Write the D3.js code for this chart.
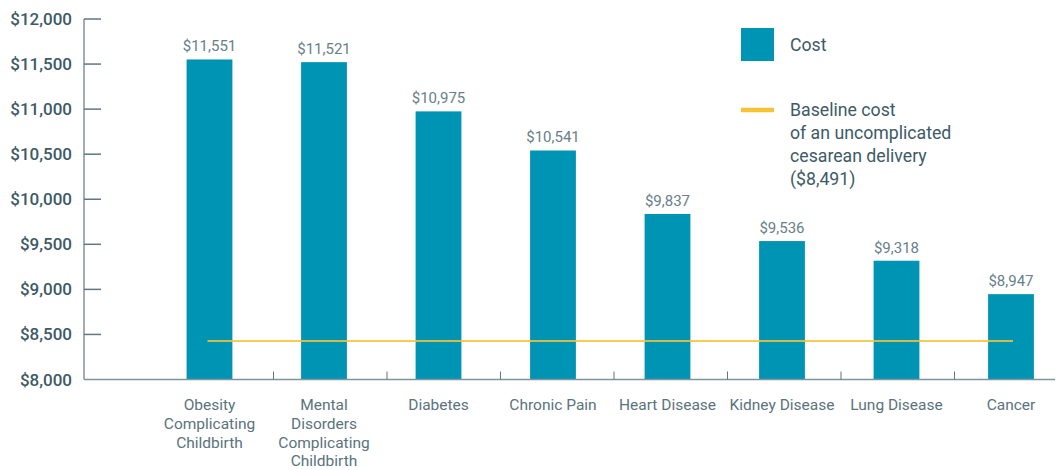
<!DOCTYPE html>
<html>
<head>
<meta charset="utf-8">
<script src="https://cdn.jsdelivr.net/npm/d3@7"></script>
<style>
  body { margin: 0; background: #fff; }
  text { font-family: Roboto, "Noto Sans", sans-serif; }
</style>
</head>
<body>
<script>
// categories, each label split into lines
var categories = ["Obesity Complicating Childbirth", "Mental Disorders Complicating Childbirth",
  "Diabetes", "Chronic Pain", "Heart Disease", "Kidney Disease", "Lung Disease", "Cancer"];
var categoryLines = [["Obesity", "Complicating", "Childbirth"],
  ["Mental", "Disorders", "Complicating", "Childbirth"],
  ["Diabetes"], ["Chronic Pain"], ["Heart Disease"], ["Kidney Disease"], ["Lung Disease"], ["Cancer"]];
var costs = [11551, 11521, 10975, 10541, 9837, 9536, 9318, 8947];
var yTicks = [8000, 8500, 9000, 9500, 10000, 10500, 11000, 11500, 12000];
var baselineCost = 8491;
var baselineLevel = 8427; // where the yellow line sits in the picture
var legendCost = "Cost";
var legendBaseline = ["Baseline cost", "of an uncomplicated", "cesarean delivery", "($8,491)"];

var W = 1058, H = 470;
var svg = d3.select("body").append("svg").attr("width", W).attr("height", H);

var y = d3.scaleLinear().domain([8000, 12000]).range([379.5, 19]);
var x = d3.scaleBand().domain(categories).range([152.25, 1068.25]).paddingInner(0.6).paddingOuter(0.3);
var fmt = function(v) { return "$" + d3.format(",")(v); };

var barColor = "#0094b4", gold = "#f7c234", axisColor = "#7f949c";

// y axis
svg.append("line").attr("x1", 84).attr("x2", 84).attr("y1", y(12000)).attr("y2", y(8000))
  .attr("stroke", axisColor).attr("stroke-width", 1.5);
svg.selectAll(".ytick").data(yTicks.filter(function(d) { return d > 8000; })).enter().append("line")
  .attr("x1", 84).attr("x2", 101).attr("y1", function(d) { return y(d); }).attr("y2", function(d) { return y(d); })
  .attr("stroke", "#5f7780").attr("stroke-width", 1.5);
svg.selectAll(".ylab").data(yTicks).enter().append("text")
  .attr("x", 72).attr("y", function(d) { return y(d) + 6; })
  .attr("text-anchor", "end").attr("font-size", 17).attr("font-weight", 500)
  .attr("fill", "#3d5a66").text(fmt);

// bars
svg.selectAll(".bar").data(costs).enter().append("rect")
  .attr("x", function(d, i) { return x(categories[i]); })
  .attr("width", x.bandwidth())
  .attr("y", function(d) { return y(d); })
  .attr("height", function(d) { return y(8000) - y(d); })
  .attr("fill", barColor);

// x axis
svg.append("line").attr("x1", 84).attr("x2", 1055).attr("y1", y(8000)).attr("y2", y(8000))
  .attr("stroke", axisColor).attr("stroke-width", 1.5);
svg.selectAll(".xtick").data(categories.slice(0, -1)).enter().append("line")
  .attr("x1", function(d, i) { return x(d) + x.bandwidth() / 2 + 64 - i; })
  .attr("x2", function(d, i) { return x(d) + x.bandwidth() / 2 + 64 - i; })
  .attr("y1", y(8000)).attr("y2", y(8000) - 8)
  .attr("stroke", "#5f7780").attr("stroke-width", 1);

// baseline
svg.append("line")
  .attr("x1", x(categories[0]) + x.bandwidth() / 2 - 2)
  .attr("x2", x(categories[7]) + x.bandwidth() / 2 + 2)
  .attr("y1", y(baselineLevel)).attr("y2", y(baselineLevel))
  .attr("stroke", gold).attr("stroke-width", 2).attr("opacity", 0.85);

// value labels
svg.selectAll(".val").data(costs).enter().append("text")
  .attr("x", function(d, i) { return x(categories[i]) + x.bandwidth() / 2; })
  .attr("y", function(d) { return y(d) - 8; })
  .attr("text-anchor", "middle").attr("font-size", 15).attr("fill", "#67808a").text(fmt);

// category labels
var cl = svg.selectAll(".cat").data(categoryLines).enter().append("text")
  .attr("text-anchor", "middle").attr("font-size", 15.5).attr("fill", "#5a737d")
  .attr("transform", function(d, i) { return "translate(" + (x(categories[i]) + x.bandwidth() / 2) + ",410)"; });
cl.selectAll("tspan").data(function(d) { return d; }).enter().append("tspan")
  .attr("x", 0).attr("dy", function(d, i) { return i ? 18.8 : 0; }).text(function(d) { return d; });

// legend
svg.append("rect").attr("x", 741).attr("y", 28).attr("width", 33).attr("height", 33).attr("fill", barColor);
svg.append("text").attr("x", 790).attr("y", 51).attr("font-size", 17.7).attr("fill", "#3d5a66").text(legendCost);
svg.append("line").attr("x1", 741).attr("x2", 774).attr("y1", 110).attr("y2", 110)
  .attr("stroke", gold).attr("stroke-width", 4.5);
svg.append("text").attr("font-size", 17.7).attr("fill", "#3d5a66")
  .selectAll("tspan").data(legendBaseline).enter().append("tspan")
  .attr("x", 790).attr("y", function(d, i) { return 116 + i * 23; }).text(function(d) { return d; });
</script>
</body>
</html>
